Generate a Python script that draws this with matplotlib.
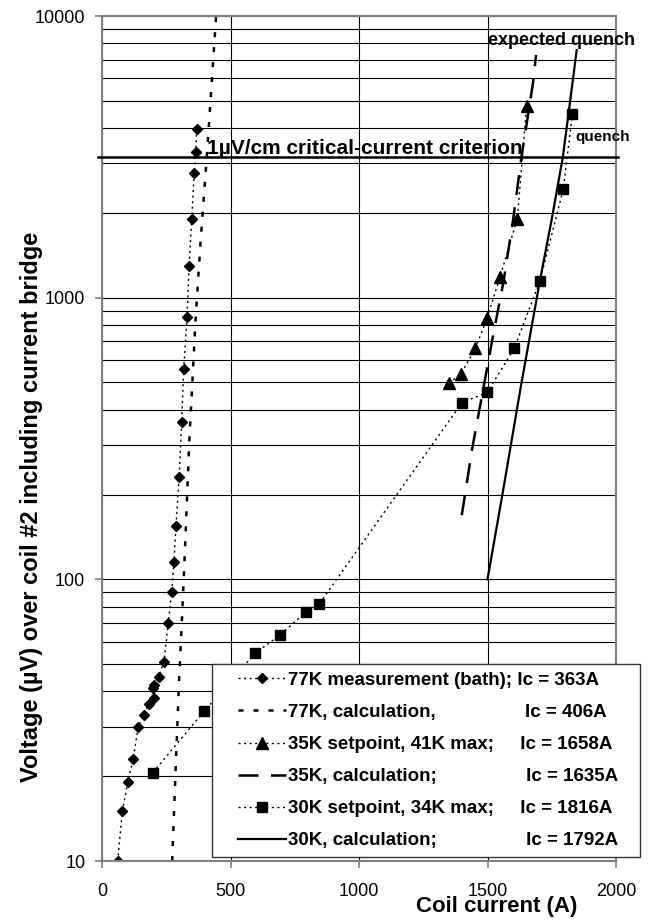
import matplotlib.pyplot as plt
from matplotlib.legend_handler import HandlerLine2D
from matplotlib.lines import Line2D
from matplotlib.ticker import FixedLocator, FixedFormatter, NullFormatter

plt.rcParams['font.family'] = ['Liberation Sans', 'DejaVu Sans']

# 77K measurement in bath (diamonds)
i77_meas = [61, 79, 100, 121, 141, 162, 182, 201, 200, 202, 220, 241, 258, 271,
            280, 288, 300, 310, 318, 331, 339, 349, 359, 365, 368]
v77_meas = [10, 15, 19, 23, 30, 33, 36, 38, 41, 42, 45, 51, 70, 90,
            115, 155, 230, 361, 560, 851, 1296, 1903, 2770, 3300, 3960]

# 77K calculation
i77_calc = [273, 281, 291, 300, 309, 319, 340, 364, 384, 407, 418, 430, 444]
v77_calc = [10, 15.6, 27, 44, 66, 105, 313, 834, 1603, 3100, 4370, 6410, 10000]

# 35K setpoint, 41K max (triangles)
i35_meas = [1349, 1396, 1453, 1499, 1549, 1616, 1652]
v35_meas = [497, 535, 661, 849, 1188, 1903, 4790]

# 35K calculation
i35_calc = [1400, 1440, 1481, 1520, 1563, 1600, 1632, 1677, 1689]
v35_calc = [169, 290, 461, 720, 1150, 1900, 3150, 5780, 7270]

# 30K setpoint, 34K max (squares)
i30_meas = [198, 397, 597, 694, 794, 846, 1401, 1499, 1604, 1704, 1795, 1830]
v30_meas = [20.6, 34, 54.8, 63.5, 76.8, 82, 424, 461, 661, 1146, 2425, 4480]

# 30K calculation
i30_calc = [1500, 1560, 1630, 1704, 1750, 1793, 1820, 1847]
v30_calc = [100, 205, 485, 1150, 1900, 3150, 4860, 7570]

criterion = 3150  # 1 uV/cm

labels = [
    "77K measurement (bath); Ic = 363A",
    "77K, calculation," + " " * 17 + "Ic = 406A",
    "35K setpoint, 41K max;" + " " * 5 + "Ic = 1658A",
    "35K, calculation;" + " " * 17 + "Ic = 1635A",
    "30K setpoint, 34K max;" + " " * 5 + "Ic = 1816A",
    "30K, calculation;" + " " * 17 + "Ic = 1792A",
]

fig = plt.figure(figsize=(6.53, 9.23), dpi=100)
ax = fig.add_axes([102 / 653, 1 - 861 / 923, 514 / 653, 845 / 923])

dotted = (0, (1.5, 2.5))
ax.plot(i77_meas, v77_meas, color='black', lw=1.0, ls=dotted,
        marker='D', ms=5.5, label=labels[0])
ax.plot(i77_calc, v77_calc, color='black', lw=1.8, ls=(0, (2, 4)),
        label=labels[1])
ax.plot(i35_meas, v35_meas, color='black', lw=1.0, ls=dotted,
        marker='^', ms=8, label=labels[2])
ax.plot(i35_calc, v35_calc, color='black', lw=1.8, ls=(0, (8, 5)),
        label=labels[3])
ax.plot(i30_meas, v30_meas, color='black', lw=1.0, ls=dotted,
        marker='s', ms=7, label=labels[4])
ax.plot(i30_calc, v30_calc, color='black', lw=1.6, ls='-',
        label=labels[5])

ax.axhline(criterion, xmin=-0.008, xmax=1.004, color='black', lw=1.8,
           clip_on=False, zorder=4)

ax.set_yscale('log')
ax.set_xlim(0, 2000)
ax.set_ylim(10, 10000)

ax.yaxis.set_major_locator(FixedLocator([10, 100, 1000, 10000]))
ax.yaxis.set_major_formatter(FixedFormatter(['10', '100', '1000', '10000']))
minors = [m * d for d in (10, 100, 1000) for m in range(2, 10)]
ax.yaxis.set_minor_locator(FixedLocator(minors))
ax.yaxis.set_minor_formatter(NullFormatter())
ax.set_xticks([0, 500, 1000, 1500, 2000])

ax.grid(True, axis='y', which='both', color='black', lw=0.8)
ax.grid(True, axis='x', which='major', color='black', lw=0.8)
ax.set_axisbelow(True)

for s in ax.spines.values():
    s.set_color('#808080')
    s.set_linewidth(1.5)
ax.tick_params(axis='both', which='major', direction='out', length=5,
               width=1.2, color='#808080', labelsize=13)
ax.tick_params(axis='y', which='major', pad=7)
ax.tick_params(axis='x', which='major', pad=11)
ax.tick_params(axis='y', which='minor', length=0)

ax.text(408, 3240, "1µV/cm critical-current criterion", fontsize=15,
        fontweight='bold', va='baseline', ha='left', zorder=5)
ax.text(1502, 7890, "expected quench", fontsize=13, fontweight='bold',
        va='baseline', ha='left', clip_on=False, zorder=5)
ax.text(1840, 3606, "quench", fontsize=11, fontweight='bold',
        va='baseline', ha='left', clip_on=False, zorder=5)

fig.text(497 / 653, 1 - 912 / 923, "Coil current (A)", fontsize=16,
         fontweight='bold', ha='center', va='baseline')
fig.text(32 / 653, 1 - 507 / 923,
         "Voltage (µV) over coil #2 including current bridge",
         fontsize=17, fontweight='bold', rotation=90, ha='center', va='center')

leg = ax.legend(loc='lower left', mode='expand',
                bbox_to_anchor=(212 / 653, 1 - 857 / 923, 428 / 653, 193 / 923),
                bbox_transform=fig.transFigure, borderaxespad=0,
                prop={'weight': 'bold', 'size': 13.5}, frameon=True,
                fancybox=False, shadow=False, borderpad=0.4,
                handlelength=3.55, handletextpad=0.1, labelspacing=0.8,
                handler_map={Line2D: HandlerLine2D(xpad=0.99)})
leg.get_frame().set_edgecolor('#333333')
leg.get_frame().set_linewidth(1.0)
leg.get_frame().set_alpha(1)
leg.set_zorder(10)

fig.savefig('out.png', dpi=100)
